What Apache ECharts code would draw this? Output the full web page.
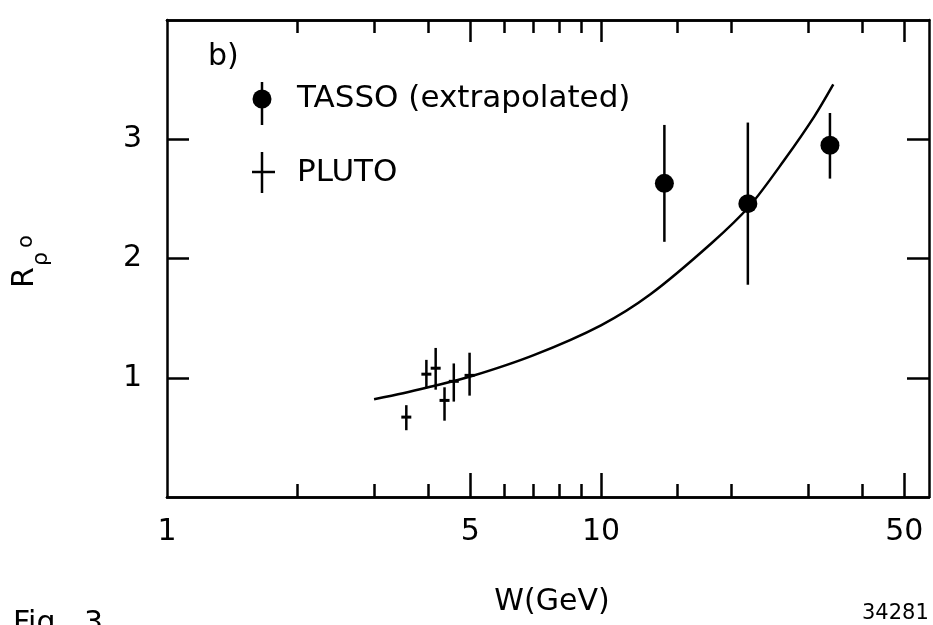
<!DOCTYPE html>
<html>
<head>
<meta charset="utf-8">
<script src="https://cdn.jsdelivr.net/npm/echarts@6/dist/echarts.min.js"></script>
<style>
  html, body { margin: 0; padding: 0; background: #fff; }
  #main { width: 933px; height: 625px; }
</style>
</head>
<body>
<div id="main"></div>
<script>
// ---- data ----
var xMajorTicks = [5, 10, 50];
var xMinorTicks = [2, 3, 4, 6, 7, 8, 9, 15, 20, 30, 40];
var xLabels = [1, 5, 10, 50];
var yTicks = [1, 2, 3];

// TASSO (extrapolated)
var tassoW = [14, 21.8, 33.7];
var tassoR = [2.63, 2.46, 2.95];
var tassoLo = [2.14, 1.78, 2.67];
var tassoHi = [3.12, 3.14, 3.22];

// PLUTO
var plutoW = [3.56, 3.96, 4.16, 4.36, 4.58, 4.98];
var plutoR = [0.67, 1.03, 1.08, 0.81, 0.97, 1.02];
var plutoLo = [0.56, 0.92, 0.90, 0.64, 0.80, 0.85];
var plutoHi = [0.77, 1.15, 1.25, 0.92, 1.12, 1.21];

// model curve
var curveW = [3.0, 3.5, 4, 5, 7, 10, 13, 18, 22, 26.5, 31, 34.3];
var curveR = [0.82, 0.87, 0.92, 1.01, 1.19, 1.44, 1.70, 2.13, 2.44, 2.83, 3.19, 3.46];

var FONT = 'DejaVu Sans';
var ink = '#000';

var chart = echarts.init(document.getElementById('main'));

function zip(a, b) {
  return a.map(function (v, i) { return [v, b[i]]; });
}

// error bar: [x, lo, hi, y]
function errItem(capHalf) {
  return function (params, api) {
    var x = api.value(0);
    var top = api.coord([x, api.value(2)]);
    var bot = api.coord([x, api.value(1)]);
    var mid = api.coord([x, api.value(3)]);
    var kids = [{
      type: 'line',
      shape: { x1: top[0], y1: top[1], x2: bot[0], y2: bot[1] },
      style: { stroke: ink, lineWidth: 2.5 }
    }];
    if (capHalf) {
      kids.push({
        type: 'line',
        shape: { x1: mid[0] - capHalf, y1: mid[1], x2: mid[0] + capHalf, y2: mid[1] },
        style: { stroke: ink, lineWidth: 3 }
      });
    }
    return { type: 'group', children: kids };
  };
}

function xAx(pos, ticks, len, extra) {
  var a = {
    type: 'log',
    logBase: 10,
    min: 1,
    max: 57,
    position: pos,
    axisLine: { show: true, onZero: false, lineStyle: { color: ink, width: 2.5 } },
    axisTick: { show: true, inside: true, length: len, customValues: ticks, lineStyle: { color: ink, width: 2.5 } },
    axisLabel: { show: false },
    splitLine: { show: false },
    minorTick: { show: false },
    minorSplitLine: { show: false }
  };
  return Object.assign(a, extra || {});
}

function yAx(pos, showLabel) {
  return {
    type: 'value',
    min: 0,
    max: 4,
    interval: 1,
    position: pos,
    axisLine: { show: true, onZero: false, lineStyle: { color: ink, width: 2.5 } },
    axisTick: { show: true, inside: true, length: 22, customValues: yTicks, lineStyle: { color: ink, width: 2.5 } },
    axisLabel: showLabel ? { show: true, customValues: yTicks, fontFamily: FONT, fontSize: 30, color: ink, margin: 25 } : { show: false },
    splitLine: { show: false }
  };
}

var option = {
  animation: false,
  backgroundColor: '#fff',
  grid: { left: 167, right: 4, top: 20, bottom: 128, containLabel: false, outerBoundsMode: 'none' },
  xAxis: [
    xAx('bottom', xMinorTicks, 13, {
      axisLabel: { show: true, customValues: xLabels, fontFamily: FONT, fontSize: 30, color: ink, margin: 20 },
      name: 'W(GeV)',
      nameLocation: 'middle',
      nameGap: 90,
      nameTextStyle: { fontFamily: FONT, fontSize: 30, color: ink, padding: [0, 0, 0, 8] }
    }),
    xAx('bottom', xMajorTicks, 24),
    xAx('top', xMinorTicks, 13),
    xAx('top', xMajorTicks, 22)
  ],
  yAxis: [yAx('left', true), yAx('right', false)],
  series: [
    {
      type: 'line',
      data: zip(curveW, curveR),
      smooth: 0.3,
      showSymbol: false,
      symbol: 'none',
      lineStyle: { color: ink, width: 2.5 },
      z: 2
    },
    {
      type: 'custom',
      renderItem: errItem(0),
      data: tassoW.map(function (w, i) { return [w, tassoLo[i], tassoHi[i], tassoR[i]]; }),
      z: 3
    },
    {
      type: 'scatter',
      data: zip(tassoW, tassoR),
      symbol: 'circle',
      symbolSize: 19,
      itemStyle: { color: ink, opacity: 1 },
      z: 4
    },
    {
      type: 'custom',
      renderItem: errItem(5),
      data: plutoW.map(function (w, i) { return [w, plutoLo[i], plutoHi[i], plutoR[i]]; }),
      z: 3
    }
  ],
  graphic: [
    { type: 'text', left: 208, top: 42, style: { text: 'b)', font: '30px ' + FONT, fill: ink } },
    // legend: TASSO
    { type: 'line', shape: { x1: 262, y1: 82, x2: 262, y2: 125 }, style: { stroke: ink, lineWidth: 2.5 } },
    { type: 'circle', shape: { cx: 262, cy: 99, r: 9.5 }, style: { fill: ink } },
    { type: 'text', x: 297, y: 99, style: { text: 'TASSO (extrapolated)', font: '31px ' + FONT, fill: ink, verticalAlign: 'middle' } },
    // legend: PLUTO
    { type: 'line', shape: { x1: 262, y1: 152, x2: 262, y2: 193 }, style: { stroke: ink, lineWidth: 2.5 } },
    { type: 'line', shape: { x1: 252, y1: 172, x2: 275, y2: 172 }, style: { stroke: ink, lineWidth: 2.5 } },
    { type: 'text', x: 297, y: 173, style: { text: 'PLUTO', font: '31px ' + FONT, fill: ink, verticalAlign: 'middle' } },
    // y axis name R_rho^o (rotated)
    {
      type: 'group',
      x: 36, y: 288,
      rotation: Math.PI / 2,
      children: [
        { type: 'text', x: 0, y: -11, style: { text: 'R', font: '30px ' + FONT, fill: ink, verticalAlign: 'middle' } },
        { type: 'text', x: 22, y: 5, style: { text: 'ρ', font: '22px ' + FONT, fill: ink, verticalAlign: 'middle' } },
        { type: 'text', x: 40, y: -9, style: { text: 'o', font: '21px ' + FONT, fill: ink, verticalAlign: 'middle' } }
      ]
    },
    { type: 'text', left: 13, top: 609, style: { text: 'Fig.  3', font: '30px ' + FONT, fill: ink } },
    { type: 'text', left: 862, top: 603, style: { text: '34281', font: '21px ' + FONT, fill: ink } }
  ]
};

chart.setOption(option);
</script>
</body>
</html>
